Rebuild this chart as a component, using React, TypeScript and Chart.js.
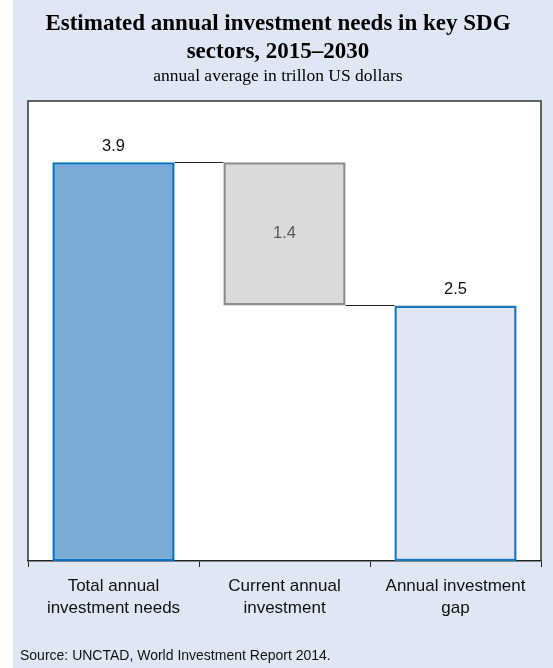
import React, { useEffect, useRef } from "react";
import { Chart, registerables } from "chart.js";

Chart.register(...registerables);

const categories: string[][] = [
  ["Total annual", "investment needs"],
  ["Current annual", "investment"],
  ["Annual investment", "gap"],
];
const barStarts: number[] = [0, 2.5, 0];
const barEnds: number[] = [3.9, 3.9, 2.5];
const valueLabels: string[] = ["3.9", "1.4", "2.5"];
const titleLines: string[] = ["Estimated annual investment needs in key SDG", "sectors, 2015\u20132030"];
const subtitle = "annual average in trillon US dollars";
const source = "Source: UNCTAD, World Investment Report 2014.";

const fills = ["#7aabd4", "#d9dadb", "#dfe7f5"];
const borders = ["#0a72c2", "#8c8c8c", "#1a77c4"];

export default function App() {
  const ref = useRef<HTMLCanvasElement | null>(null);
  useEffect(() => {
    if (!ref.current) return;
    const decor = {
      id: "decor",
      beforeDraw(chart: any) {
        const ctx = chart.ctx;
        const a = chart.chartArea;
        ctx.save();
        ctx.fillStyle = "#ffffff";
        ctx.fillRect(a.left, a.top, a.right - a.left, a.bottom - a.top);
        ctx.restore();
      },
      afterDatasetsDraw(chart: any) {
        const ctx = chart.ctx;
        const a = chart.chartArea;
        const meta = chart.getDatasetMeta(0);
        const els = meta.data;
        ctx.save();
        // connectors
        ctx.strokeStyle = "#222";
        ctx.lineWidth = 1;
        for (let i = 0; i < els.length - 1; i++) {
          const e = els[i];
          const n = els[i + 1];
          const yLevel = i === 0 ? Math.min(e.y, e.base) : Math.max(e.y, e.base);
          const y = Math.round(yLevel) + 0.5;
          ctx.beginPath();
          ctx.moveTo(e.x + e.width / 2, y);
          ctx.lineTo(n.x - n.width / 2, y);
          ctx.stroke();
        }
        // frame
        ctx.strokeStyle = "#333";
        ctx.lineWidth = 1.5;
        ctx.beginPath();
        ctx.moveTo(a.left, a.bottom);
        ctx.lineTo(a.left, a.top);
        ctx.lineTo(a.right, a.top);
        ctx.lineTo(a.right, a.bottom);
        ctx.stroke();
        // value labels
        ctx.font = "16.5px 'Liberation Sans', Arial, sans-serif";
        ctx.textAlign = "center";
        els.forEach((e: any, i: number) => {
          const top = Math.min(e.y, e.base);
          const bot = Math.max(e.y, e.base);
          if (i === 1) {
            ctx.fillStyle = "#595959";
            ctx.textBaseline = "middle";
            ctx.fillText(valueLabels[i], e.x, (top + bot) / 2);
          } else {
            ctx.fillStyle = "#111";
            ctx.textBaseline = "bottom";
            ctx.fillText(valueLabels[i], e.x, top - 8);
          }
        });
        // titles
        ctx.fillStyle = "#000";
        ctx.textBaseline = "alphabetic";
        ctx.font = "bold 23px 'Liberation Serif', 'Times New Roman', serif";
        ctx.fillText(titleLines[0], 278, 30);
        ctx.fillText(titleLines[1], 278, 58);
        ctx.font = "17.5px 'Liberation Serif', 'Times New Roman', serif";
        ctx.fillText(subtitle, 278, 81);
        ctx.textAlign = "left";
        ctx.fillStyle = "#111";
        ctx.font = "14px 'Liberation Sans', Arial, sans-serif";
        ctx.fillText(source, 20, 660);
        ctx.restore();
      },
    };
    const chart = new Chart(ref.current, {
      type: "bar",
      data: {
        labels: categories,
        datasets: [
          {
            data: barStarts.map((s, i) => [s, barEnds[i]]) as any,
            backgroundColor: fills,
            borderColor: borders,
            borderWidth: 2.5,
            borderSkipped: false,
            categoryPercentage: 1,
            barPercentage: 0.715,
          },
        ],
      },
      options: {
        responsive: false,
        animation: false,
        devicePixelRatio: 1,
        layout: { padding: { left: 28, right: 12, top: 101, bottom: 0 } },
        plugins: { legend: { display: false }, tooltip: { enabled: false }, title: { display: false } },
        scales: {
          y: { display: false, min: 0, max: 4.5 },
          x: {
            afterFit: (scale: any) => {
              scale.height = 107;
            },
            grid: {
              offset: true,
              drawOnChartArea: false,
              drawTicks: true,
              tickLength: 6,
              color: "#222",
              lineWidth: 1,
            },
            border: { display: true, color: "#222", width: 1.5 },
            ticks: {
              color: "#111",
              padding: 9,
              font: { family: "'Liberation Sans', Arial, sans-serif", size: 17, lineHeight: 1.25 },
              maxRotation: 0,
            },
          },
        },
      },
      plugins: [decor],
    });
    return () => chart.destroy();
  }, []);
  return (
    <div style={{ position: "absolute", left: 0, top: 0, width: 553, height: 668, background: "#fff" }}>
      <div style={{ position: "absolute", left: 13, top: 0, width: 540, height: 668, background: "#dfe7f5" }} />
      <canvas ref={ref} width={553} height={668} style={{ position: "absolute", left: 0, top: 0 }} />
    </div>
  );
}
